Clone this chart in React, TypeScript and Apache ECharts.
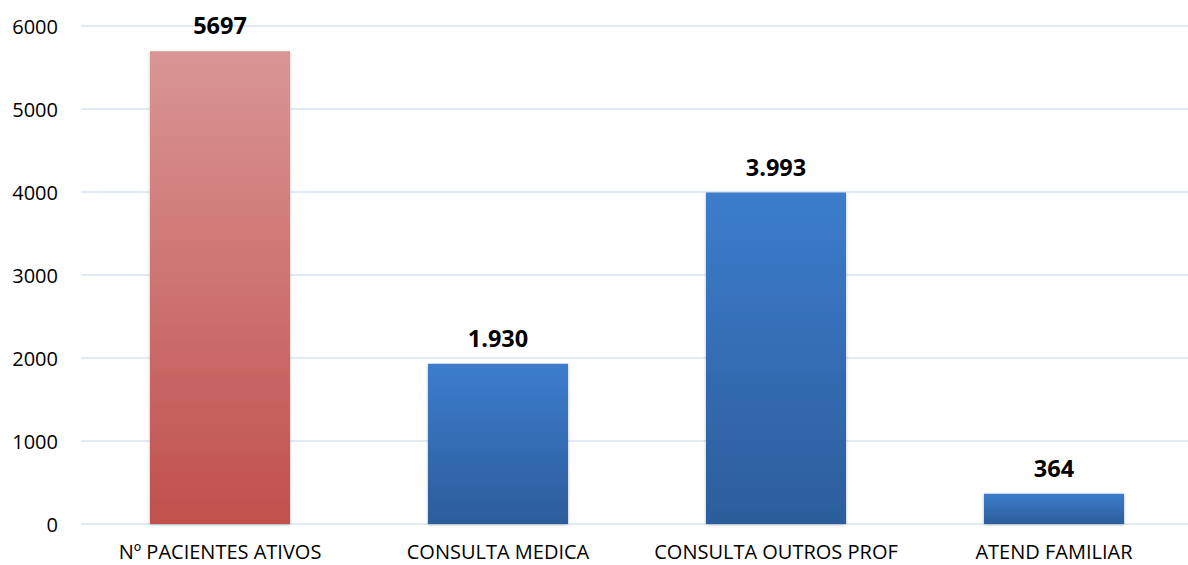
import React, { useEffect, useRef } from "react";
import * as echarts from "echarts";

const categories = ["Nº PACIENTES ATIVOS", "CONSULTA MEDICA", "CONSULTA OUTROS PROF", "ATEND FAMILIAR"];
const values = [5697, 1930, 3993, 364];
const valueLabels = ["5697", "1.930", "3.993", "364"];
const yTicks = [0, 1000, 2000, 3000, 4000, 5000, 6000];

const FONT = "'Open Sans', 'Noto Sans', sans-serif";

export default function App() {
  const ref = useRef<HTMLDivElement>(null);
  useEffect(() => {
    const chart = echarts.init(ref.current!, null, { renderer: "svg" });
    const red = new echarts.graphic.LinearGradient(0, 0, 0, 1, [
      { offset: 0, color: "#d99694" },
      { offset: 1, color: "#c0504d" },
    ]);
    const blue = new echarts.graphic.LinearGradient(0, 0, 0, 1, [
      { offset: 0, color: "#3c7dcc" },
      { offset: 1, color: "#2c5d9b" },
    ]);
    chart.setOption({
      animation: false,
      grid: { left: 81, right: 4, top: 26, bottom: 41 },
      xAxis: {
        type: "category",
        data: categories,
        axisLine: { show: false },
        axisTick: { show: false },
        axisLabel: { color: "#000", fontSize: 20, fontFamily: FONT, margin: 17, interval: 0 },
      },
      yAxis: {
        type: "value",
        min: yTicks[0],
        max: yTicks[yTicks.length - 1],
        interval: 1000,
        axisLine: { show: false },
        axisTick: { show: false },
        splitLine: { lineStyle: { color: "#d9e4f2", width: 1.5 } },
        axisLabel: {
          color: "#000",
          fontSize: 20,
          fontFamily: FONT,
          margin: 23,
          formatter: (v: number) => String(v),
        },
      },
      series: [
        {
          type: "bar",
          barWidth: "50.4%",
          data: values.map((v, i) => ({
            value: v,
            itemStyle: {
              color: i === 0 ? red : blue,
              shadowColor: "rgba(0,0,0,0.25)",
              shadowBlur: 3,
              shadowOffsetY: 1,
            },
          })),
          label: {
            show: true,
            position: "top",
            distance: 14,
            color: "#000",
            fontSize: 23.5,
            fontWeight: "bold",
            fontFamily: FONT,
            formatter: (p: any) => valueLabels[p.dataIndex],
          },
        },
      ],
    });
    return () => chart.dispose();
  }, []);
  return (
    <div style={{ position: "absolute", left: 0, top: 0, width: 1188, height: 565, overflow: "hidden", background: "#fff" }}>
      <div ref={ref} style={{ width: 1197, height: 565 }} />
    </div>
  );
}
